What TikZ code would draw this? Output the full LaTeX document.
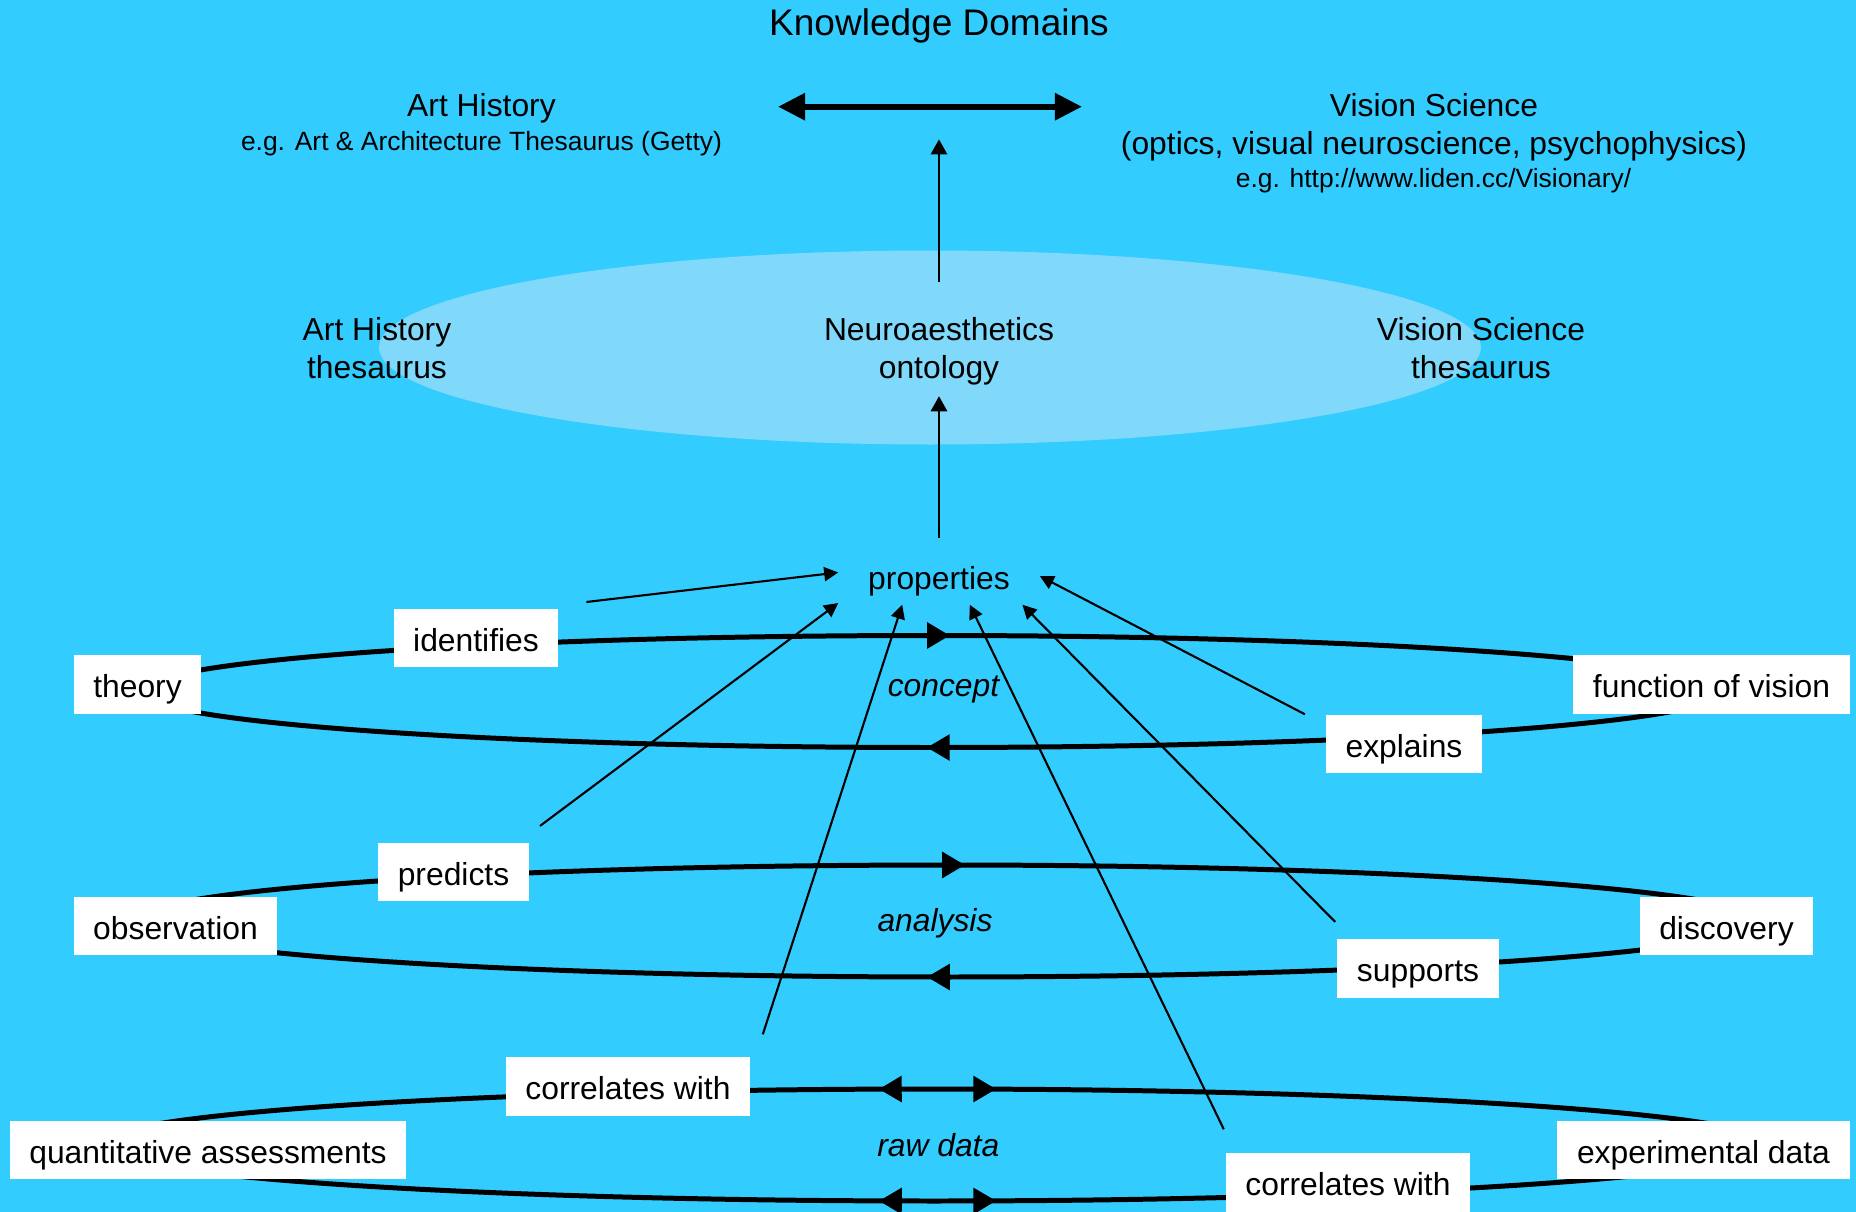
\documentclass[tikz,border=0pt]{standalone}
\usepackage{fontspec}
\setmainfont{Liberation Sans}
\usetikzlibrary{arrows.meta,decorations.markings,calc}
\definecolor{bgblue}{HTML}{33CCFF}
\definecolor{ovalblue}{HTML}{80D8FA}
\newcommand\fstitle{\fontsize{10.53pt}{12.6pt}\selectfont}
\newcommand\fsmain{\fontsize{9.05pt}{10.65pt}\selectfont}
\newcommand\fssmall{\fontsize{7.51pt}{9pt}\selectfont}
\tikzset{
  txt/.style={font=\fsmain, inner sep=0pt, anchor=base, align=center},
  small/.style={font=\fssmall, inner sep=0pt, anchor=base},
  ital/.style={font=\fsmain\itshape, inner sep=0pt, anchor=base},
  lbl/.style={font=\fsmain, fill=white, inner xsep=5.55pt, inner ysep=0pt,
     minimum height=16.5pt, text height=0.74em, text depth=0pt},
  ring/.style={line width=1.42pt, postaction={decorate}},
  thin/.style={line width=0.6pt, -{Triangle[length=4pt,width=4pt]}},
  mid/.style={line width=0.85pt, -{Triangle[length=4.3pt,width=4.55pt]}},
  big/.style={line width=1.7pt, {Triangle[length=7.7pt,width=7.4pt]}-{Triangle[length=7.7pt,width=7.4pt]}},
}
\begin{document}
\begin{tikzpicture}[x=0.01cm,y=-0.01cm]
\fill[bgblue] (0,0) rectangle (1856,1212);
\useasboundingbox (0,0) rectangle (1856,1212);
\fill[ovalblue] (930,347.5) ellipse [x radius=551, y radius=97];

% top area
\node[font=\fstitle, inner sep=0pt, anchor=base] (kdtitle) at (939,35) {Knowledge Domains};
\node[txt] (ah) at (481.5,116.7) {Art History};
\node[small] (aheg) at (481.5,150) {e.g. Art \& Architecture Thesaurus (Getty)};
\node[txt] (vs) at (1434,154) {Vision Science\\(optics, visual neuroscience, psychophysics)};
\node[small] (vseg) at (1433.5,187.3) {e.g. http://www.liden.cc/Visionary/};
\coordinate (dl) at (778,106.7);
\coordinate (dr) at (1082,106.7);
\draw[big] (dl) -- (dr);
\coordinate (kd) at (939,139.3);

% oval labels
\node[txt] (aht) at (377,378.3) {Art History\\thesaurus};
\node[txt] (neuro) at (939,378.3) {Neuroaesthetics\\ontology};
\node[txt] (vst) at (1481,378.3) {Vision Science\\thesaurus};

% properties
\node[font=\fsmain, inner sep=0pt, minimum width=56.9pt, minimum height=15.93pt,
      text height=0.74em, text depth=0pt] (props) at (939,576) {properties};

\draw[mid] ([yshift=2.7pt]props.north) -- ([yshift=-3pt]neuro.south);
\draw[mid] ([yshift=10pt]neuro.north) -- (kd);

% rings
\draw[ring, decoration={markings,
  mark=at position 0.2516 with {\arrow{Triangle[length=6.5pt,width=7.2pt]}},
  mark=at position 0.7556 with {\arrow{Triangle[length=6.5pt,width=7.2pt]}}}]
  (932,691.5) ellipse [x radius=792, y radius=56];
\draw[ring, decoration={markings,
  mark=at position 0.2558 with {\arrow{Triangle[length=6.5pt,width=7.2pt]}},
  mark=at position 0.7558 with {\arrow{Triangle[length=6.5pt,width=7.2pt]}}}]
  (946,921) ellipse [x radius=812, y radius=56];
\draw[ring, decoration={markings,
  mark=at position 0.2316 with {\arrowreversed{Triangle[length=6.5pt,width=7.2pt]}},
  mark=at position 0.2663 with {\arrow{Triangle[length=6.5pt,width=7.2pt]}},
  mark=at position 0.7337 with {\arrowreversed{Triangle[length=6.5pt,width=7.2pt]}},
  mark=at position 0.7684 with {\arrow{Triangle[length=6.5pt,width=7.2pt]}}}]
  (934,1145) ellipse [x radius=838, y radius=56];

% ring labels
\node[ital] (concept) at (943.5,696.7) {concept};
\node[ital] (analysis) at (935,931.7) {analysis};
\node[ital] (rawdata) at (938.3,1156.7) {raw data};

% boxes
\node[lbl] (theory) at (137.5,684.5) {theory};
\node[lbl] (identifies) at (476,638.3) {identifies};
\node[lbl] (fov) at (1711.5,684.5) {function of vision};
\node[lbl] (explains) at (1404,744) {explains};
\node[lbl] (predicts) at (453.5,872) {predicts};
\node[lbl] (observation) at (175.5,926) {observation};
\node[lbl] (discovery) at (1726.5,926) {discovery};
\node[lbl] (supports) at (1418,968.5) {supports};
\node[lbl] (corrA) at (628,1086.5) {correlates with};
\node[lbl] (quant) at (208,1150) {quantitative assessments};
\node[lbl] (experimental) at (1703.5,1150) {experimental data};
\node[lbl] (corrB) at (1348,1182.5) {correlates with};

% thin connectors to properties
\draw[thin] ($(identifies.north east)+(27.4,-6.6)$) -- (props.178);
\draw[thin] ($(predicts.north east)+(10.5,-16.3)$) -- (props.195);
\draw[thin] ($(corrA.north east)+(12,-22.5)$) -- (props.218);
\draw[thin] ($(corrB.north west)+(-1.4,-23.5)$) -- (props.317);
\draw[thin] ($(supports.north west)+(-1.5,-16.8)$) -- (props.341);
\draw[thin] ($(explains.north west)+(-20.5,0)$) -- (props.east);
\end{tikzpicture}
\end{document}
